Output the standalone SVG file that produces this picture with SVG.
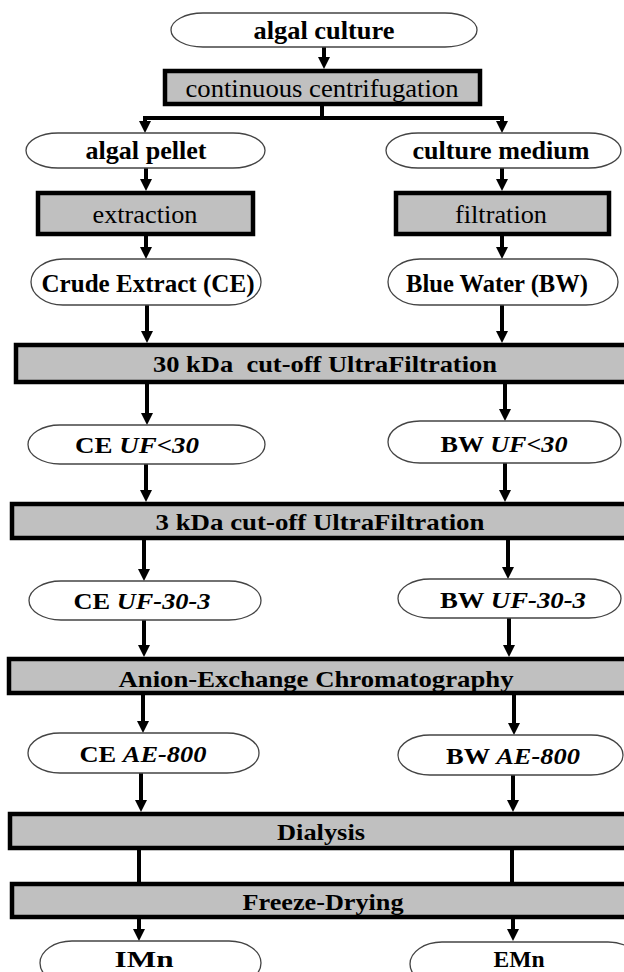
<svg xmlns="http://www.w3.org/2000/svg" width="624" height="972" viewBox="0 0 624 972">
<style>
  .term { fill: #ffffff; stroke: #444444; stroke-width: 1.3; }
  .proc { fill: #c0c0c0; stroke: #000000; stroke-width: 4.5; }
  text { font-family: "Liberation Serif", "Times New Roman", serif; fill: #000000; text-anchor: middle; }
  .b { font-weight: bold; }
  .i { font-style: italic; }
  .conn line, .conn path { stroke: #000000; stroke-width: 4; fill: none; }
  .conn .arrow { marker-end: url(#ah); }
</style>
<defs>
  <marker id="ah" markerUnits="userSpaceOnUse" markerWidth="12" markerHeight="12" refX="4" refY="6" orient="auto">
    <path d="M0,0 L12,6 L0,12 z" fill="#000000"/>
  </marker>
</defs>
<rect width="624" height="972" fill="#ffffff"/>

<g id="connectors" class="conn">
  <line class="arrow" x1="324" y1="47" x2="324" y2="61"/>
  <path d="M322,106 V118"/>
  <path d="M143,118 H504"/>
  <line class="arrow" x1="145" y1="116" x2="145" y2="125"/>
  <line class="arrow" x1="502" y1="116" x2="502" y2="125"/>
  <line class="arrow" x1="146" y1="168" x2="146" y2="183"/>
  <line class="arrow" x1="502" y1="168" x2="502" y2="183"/>
  <line class="arrow" x1="146" y1="236" x2="146" y2="251"/>
  <line class="arrow" x1="502" y1="236" x2="502" y2="251"/>
  <line class="arrow" x1="147" y1="305" x2="147" y2="335"/>
  <line class="arrow" x1="502" y1="305" x2="502" y2="335"/>
  <line class="arrow" x1="147" y1="384" x2="147" y2="417"/>
  <line class="arrow" x1="505" y1="384" x2="505" y2="413"/>
  <line class="arrow" x1="146" y1="464" x2="146" y2="494"/>
  <line class="arrow" x1="505" y1="463" x2="505" y2="494"/>
  <line class="arrow" x1="144" y1="540" x2="144" y2="573"/>
  <line class="arrow" x1="508" y1="540" x2="508" y2="571"/>
  <line class="arrow" x1="144" y1="620" x2="144" y2="649"/>
  <line class="arrow" x1="509" y1="618" x2="509" y2="649"/>
  <line class="arrow" x1="143" y1="695" x2="143" y2="725"/>
  <line class="arrow" x1="514" y1="695" x2="514" y2="727"/>
  <line class="arrow" x1="141" y1="773" x2="141" y2="804"/>
  <line class="arrow" x1="513" y1="775" x2="513" y2="804"/>
  <line x1="139" y1="850" x2="139" y2="882"/>
  <line x1="512" y1="850" x2="512" y2="882"/>
  <line class="arrow" x1="139" y1="919" x2="139" y2="933"/>
  <line class="arrow" x1="513" y1="919" x2="513" y2="933"/>
</g>

<g id="algal-culture">
  <rect class="term" x="171" y="13" width="306" height="34" rx="32" ry="17"/>
  <text class="b" x="324" y="39" font-size="25" textLength="141" lengthAdjust="spacingAndGlyphs">algal culture</text>
</g>
<g id="centrifugation">
  <rect class="proc" x="165" y="71" width="315" height="33"/>
  <text x="322" y="97" font-size="25" textLength="273" lengthAdjust="spacingAndGlyphs">continuous centrifugation</text>
</g>
<g id="algal-pellet">
  <rect class="term" x="26" y="133" width="239" height="35" rx="32" ry="17.5"/>
  <text class="b" x="146" y="159" font-size="25" textLength="121" lengthAdjust="spacingAndGlyphs">algal pellet</text>
</g>
<g id="culture-medium">
  <rect class="term" x="386" y="133" width="235" height="35" rx="32" ry="17.5"/>
  <text class="b" x="501" y="159" font-size="25" textLength="177" lengthAdjust="spacingAndGlyphs">culture medium</text>
</g>
<g id="extraction">
  <rect class="proc" x="38" y="193" width="215" height="41"/>
  <text x="145" y="223" font-size="25" textLength="105" lengthAdjust="spacingAndGlyphs">extraction</text>
</g>
<g id="filtration">
  <rect class="proc" x="396" y="193" width="213" height="41"/>
  <text x="501" y="223" font-size="25" textLength="92" lengthAdjust="spacingAndGlyphs">filtration</text>
</g>
<g id="crude-extract">
  <rect class="term" x="31" y="259" width="230" height="46" rx="32" ry="23"/>
  <text class="b" x="148" y="292" font-size="26" textLength="213" lengthAdjust="spacingAndGlyphs">Crude Extract (CE)</text>
</g>
<g id="blue-water">
  <rect class="term" x="388" y="259" width="230" height="46" rx="32" ry="23"/>
  <text class="b" x="497" y="292" font-size="26" textLength="182" lengthAdjust="spacingAndGlyphs">Blue Water (BW)</text>
</g>
<g id="uf30">
  <rect class="proc" x="16" y="345" width="640" height="37"/>
  <text class="b" x="325" y="372" font-size="24" textLength="344" lengthAdjust="spacingAndGlyphs" xml:space="preserve">30 kDa  cut-off UltraFiltration</text>
</g>
<g id="ce-uf30">
  <rect class="term" x="28" y="425" width="237" height="39" rx="32" ry="19.5"/>
  <text class="b" x="137" y="453" font-size="24" textLength="124" lengthAdjust="spacingAndGlyphs">CE <tspan class="i">UF&lt;30</tspan></text>
</g>
<g id="bw-uf30">
  <rect class="term" x="388" y="421" width="233" height="42" rx="32" ry="21"/>
  <text class="b" x="504" y="452" font-size="24" textLength="127" lengthAdjust="spacingAndGlyphs">BW <tspan class="i">UF&lt;30</tspan></text>
</g>
<g id="uf3">
  <rect class="proc" x="12" y="504" width="640" height="34"/>
  <text class="b" x="320" y="530" font-size="24" textLength="329" lengthAdjust="spacingAndGlyphs">3 kDa cut-off UltraFiltration</text>
</g>
<g id="ce-uf30-3">
  <rect class="term" x="29" y="581" width="232" height="39" rx="32" ry="19.5"/>
  <text class="b" x="142" y="609" font-size="24" textLength="137" lengthAdjust="spacingAndGlyphs">CE <tspan class="i">UF-30-3</tspan></text>
</g>
<g id="bw-uf30-3">
  <rect class="term" x="398" y="579" width="223" height="39" rx="32" ry="19.5"/>
  <text class="b" x="513" y="608" font-size="24" textLength="146" lengthAdjust="spacingAndGlyphs">BW <tspan class="i">UF-30-3</tspan></text>
</g>
<g id="anion-exchange">
  <rect class="proc" x="9" y="659" width="640" height="34"/>
  <text class="b" x="316" y="687" font-size="24" textLength="395" lengthAdjust="spacingAndGlyphs">Anion-Exchange Chromatography</text>
</g>
<g id="ce-ae800">
  <rect class="term" x="28" y="733" width="231" height="40" rx="32" ry="20"/>
  <text class="b" x="143" y="762" font-size="24" textLength="127" lengthAdjust="spacingAndGlyphs">CE <tspan class="i">AE-800</tspan></text>
</g>
<g id="bw-ae800">
  <rect class="term" x="398" y="735" width="225" height="40" rx="32" ry="20"/>
  <text class="b" x="513" y="764" font-size="24" textLength="134" lengthAdjust="spacingAndGlyphs">BW <tspan class="i">AE-800</tspan></text>
</g>
<g id="dialysis">
  <rect class="proc" x="10" y="814" width="640" height="34"/>
  <text class="b" x="321" y="840" font-size="24" textLength="88" lengthAdjust="spacingAndGlyphs">Dialysis</text>
</g>
<g id="freeze-drying">
  <rect class="proc" x="12" y="884" width="640" height="33"/>
  <text class="b" x="323" y="910" font-size="24" textLength="161" lengthAdjust="spacingAndGlyphs">Freeze-Drying</text>
</g>
<g id="imn">
  <rect class="term" x="40" y="941" width="221" height="44" rx="32" ry="22"/>
  <text class="b" x="144" y="967" font-size="24" textLength="59" lengthAdjust="spacingAndGlyphs">IMn</text>
</g>
<g id="emn">
  <rect class="term" x="410" y="942" width="230" height="44" rx="32" ry="22"/>
  <text class="b" x="519" y="967" font-size="24" textLength="51" lengthAdjust="spacingAndGlyphs">EMn</text>
</g>
</svg>
